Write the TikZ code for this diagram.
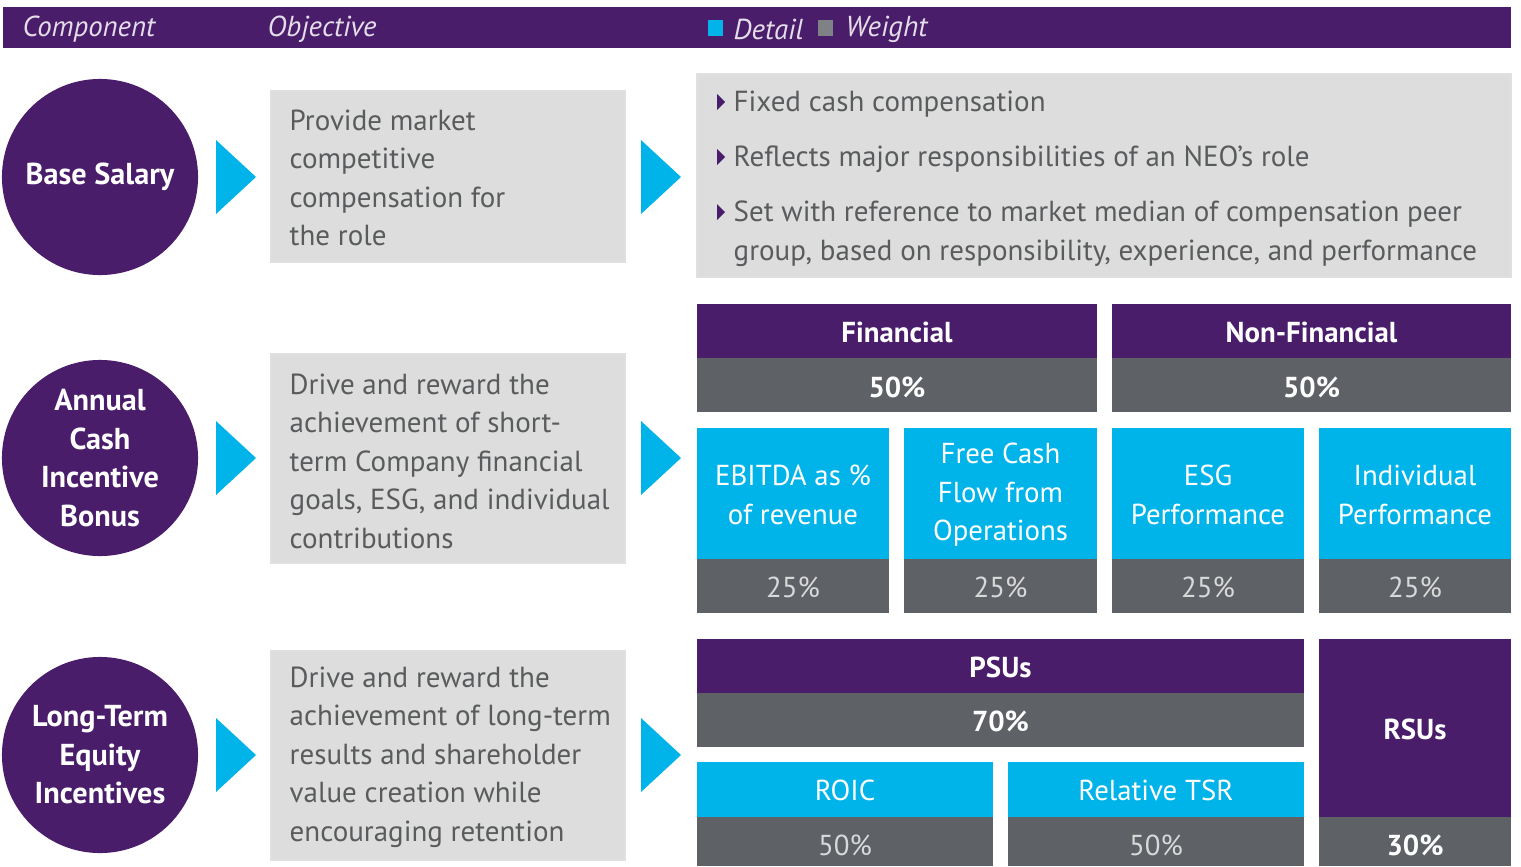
\documentclass[tikz,border=0pt]{standalone}
\usepackage{fontspec}
\setmainfont{PT Sans}
\usepackage{tikz}
\usetikzlibrary{positioning}
\definecolor{purp}{HTML}{4A1D6B}
\definecolor{skyb}{HTML}{00B4E9}
\definecolor{dgrey}{HTML}{5E6166}
\definecolor{lgrey}{HTML}{DCDDDC}
\definecolor{txtgrey}{HTML}{5A5B5D}
\newcommand{\arr}[2]{\fill[skyb] (#1,#2) ++(0,-37)--++(40,37)--++(-40,37)--cycle;}
\newcommand{\tri}[2]{\fill[purp] (#1,#2) ++(0,-8)--++(8,8)--++(-8,8)--cycle;}

\begin{document}
\begin{tikzpicture}[x=0.01cm,y=-0.01cm,
	comp/.style={circle,fill=purp,minimum size=1.96cm,inner sep=0pt,text=white,align=center,font=\fontsize{8.6}{10.95}\selectfont\bfseries},
	obj/.style={anchor=west,align=left,inner sep=0pt,text=txtgrey,font=\fontsize{8.25}{10.95}\selectfont},
	hd/.style={text=white,font=\fontsize{8.2}{10.95}\selectfont\bfseries},
	det/.style={text=white,align=center,font=\fontsize{8.2}{10.95}\selectfont},
	pct/.style={text=white!85!black,font=\fontsize{8.2}{10.95}\selectfont},
	leg/.style={anchor=west,inner sep=0pt,text=white!85!purp,font=\fontsize{8.2}{10.95}\selectfont\itshape}]
	\useasboundingbox (0,0) rectangle (1521,866);
	% header bar
	\fill[purp] (3,7) rectangle (1511,48);
	\node[leg] (hcomp) at (22,29) {Component};
	\node[leg] (hobj) at (267,29) {Objective};
	\fill[skyb] (708,20) rectangle (723,36);
	\node[leg] (hdet) at (733,29) {Detail};
	\fill[dgrey!80!white] (818,20) rectangle (833,36);
	\node[leg] (hwei) at (845,29) {Weight};
	% components
	\node[comp] (base) at (100,177) {Base Salary};
	\node[comp] (acib) at (100,458) {Annual\\Cash\\Incentive\\Bonus};
	\node[comp] (ltei) at (100,755) {Long-Term\\Equity\\Incentives};
	\arr{216}{177} \arr{216}{458} \arr{216}{755}
	\arr{641}{177} \arr{641}{458} \arr{641}{755}
	% objectives
	\filldraw[fill=lgrey,draw=black!12] (271,91) rectangle (625,262);
	\filldraw[fill=lgrey,draw=black!12] (271,354) rectangle (625,563);
	\filldraw[fill=lgrey,draw=black!12] (271,651) rectangle (625,860);
	\node[obj] (obase) at (289,178) {Provide market\\competitive\\compensation for\\the role};
	\node[obj] (oacib) at (289,461) {Drive and reward the\\achievement of short-\\term Company financial\\goals, ESG, and individual\\contributions};
	\node[obj] (oltei) at (289,757) {Drive and reward the\\achievement of long-term\\results and shareholder\\value creation while\\encouraging retention};
	% base salary detail
	\filldraw[fill=lgrey,draw=black!12] (697,74) rectangle (1511,277);
	\tri{717}{102} \tri{717}{157} \tri{717}{212}
	\node[obj] (d1) at (733,104) {Fixed cash compensation};
	\node[obj] (d2) at (733,159) {Reflects major responsibilities of an NEO's role};
	\node[obj] (d3) at (733,233.5) {Set with reference to market median of compensation peer\\group, based on responsibility, experience, and performance};
	% annual bonus
	\fill[purp] (697,304) rectangle (1097,358);
	\fill[dgrey] (697,358) rectangle (1097,412);
	\fill[purp] (1112,304) rectangle (1511,358);
	\fill[dgrey] (1112,358) rectangle (1511,412);
	\node[hd] (fin) at (897,332) {Financial};
	\node[hd] (finw) at (897,387) {50\%};
	\node[hd] (nfin) at (1311.5,332) {Non-Financial};
	\node[hd] (nfinw) at (1311.5,387) {50\%};
	\foreach \xa/\xb/\lab/\nm in {697/889/{EBITDA as \%\\of revenue}/ebit,
		904/1097/{Free Cash\\Flow from\\Operations}/fcf,
		1112/1304/{ESG\\Performance}/esg,
		1319/1511/{Individual\\Performance}/indv}{
		\fill[skyb] (\xa,428) rectangle (\xb,559);
		\fill[dgrey] (\xa,559) rectangle (\xb,613);
		\node[det] (\nm) at ({(\xa+\xb)/2},495) {\lab};
		\node[pct] (\nm w) at ({(\xa+\xb)/2},587) {25\%};
	}
	% long-term incentives
	\fill[purp] (697,639) rectangle (1304,693);
	\fill[dgrey] (697,693) rectangle (1304,747);
	\node[hd] (psu) at (1000.5,667) {PSUs};
	\node[hd] (psuw) at (1000.5,721) {70\%};
	\fill[skyb] (697,762) rectangle (993,817);
	\fill[dgrey] (697,817) rectangle (993,866);
	\fill[skyb] (1008,762) rectangle (1304,817);
	\fill[dgrey] (1008,817) rectangle (1304,866);
	\node[det] (roic) at (845,790.5) {ROIC};
	\node[pct] (roicw) at (845,845) {50\%};
	\node[det] (rtsr) at (1156,790.5) {Relative TSR};
	\node[pct] (rtsrw) at (1156,845) {50\%};
	\fill[purp] (1319,639) rectangle (1511,817);
	\fill[dgrey] (1319,817) rectangle (1511,866);
	\node[hd] (rsu) at (1415,729) {RSUs};
	\node[hd] (rsuw) at (1415,845) {30\%};
\end{tikzpicture}
\end{document}
